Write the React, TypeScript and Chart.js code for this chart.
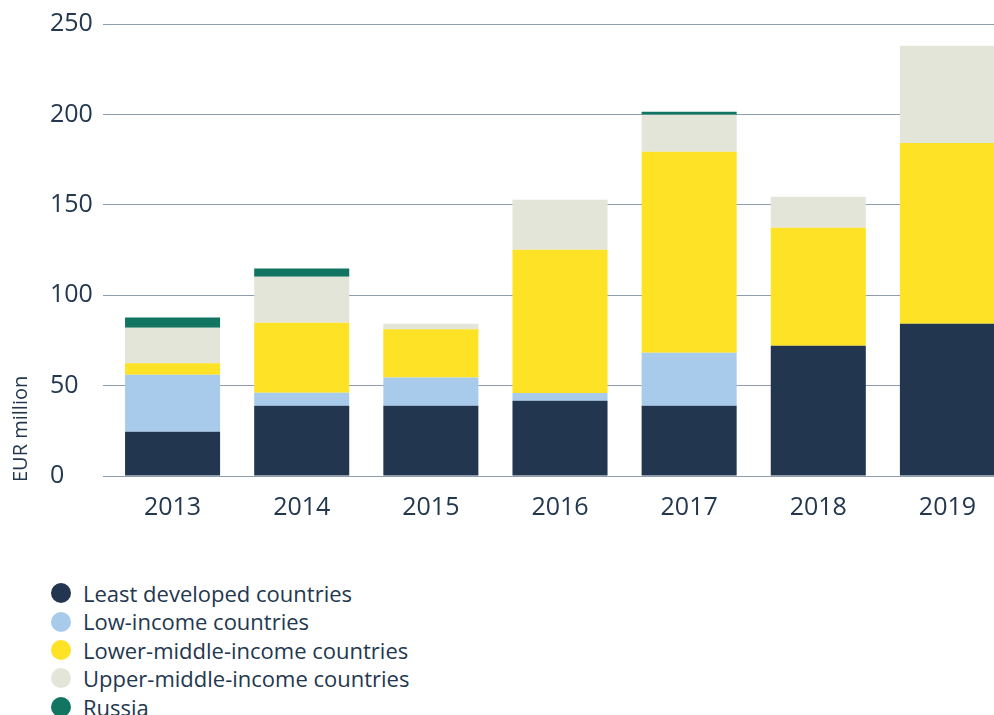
import React, { useEffect, useRef } from "react";
import { Chart, registerables } from "chart.js";

Chart.register(...registerables);

const years = ["2013", "2014", "2015", "2016", "2017", "2018", "2019"];
const leastDeveloped = [24.5, 38.9, 38.9, 41.6, 38.9, 72.1, 84.2];
const lowIncome = [31.5, 7.2, 15.6, 4.3, 29.3, 0, 0];
const lowerMiddle = [6.3, 38.7, 26.6, 79.3, 111.2, 65.2, 100];
const upperMiddle = [19.7, 25.4, 3.1, 27.6, 20.4, 17.2, 53.8];
const russia = [5.6, 4.5, 0, 0, 1.7, 0, 0];

const seriesNames = [
  "Least developed countries",
  "Low-income countries",
  "Lower-middle-income countries",
  "Upper-middle-income countries",
  "Russia",
];
const seriesColors = ["#22374f", "#a8cbec", "#fee226", "#e3e5d8", "#117561"];
const seriesValues = [leastDeveloped, lowIncome, lowerMiddle, upperMiddle, russia];

const yMin = 0;
const yMax = 250;
const yStep = 50;
const yTitle = "EUR million";

const FONT = "'Open Sans', sans-serif";
const TEXT = "#23374f";
const GRID = "#8e9db0";

export default function App() {
  const ref = useRef<HTMLCanvasElement | null>(null);

  useEffect(() => {
    if (!ref.current) return;
    const chart = new Chart(ref.current, {
      type: "bar",
      data: {
        labels: years,
        datasets: seriesNames.map((name, i) => ({
          label: name,
          data: seriesValues[i],
          backgroundColor: seriesColors[i],
          borderWidth: 0,
          yAxisID: "y",
          barPercentage: 0.736,
          categoryPercentage: 1,
        })),
      },
      options: {
        animation: false,
        responsive: true,
        maintainAspectRatio: false,
        layout: { padding: { top: 24, right: 0, bottom: 0, left: 0 } },
        plugins: {
          legend: { display: false },
          tooltip: { enabled: false },
        },
        scales: {
          x: {
            stacked: true,
            grid: { display: false },
            border: { display: false },
            ticks: {
              color: TEXT,
              font: { family: FONT, size: 25 },
              padding: 9,
            },
            afterFit: (s: any) => {
              s.height = 64;
            },
          },
          y: {
            stacked: true,
            min: yMin,
            max: yMax,
            ticks: {
              stepSize: yStep,
              crossAlign: "far",
              color: TEXT,
              font: { family: FONT, size: 25 },
              padding: 0,
            },
            grid: { color: GRID, lineWidth: 1, tickLength: 5, drawTicks: true },
            border: { display: false },
            afterFit: (s: any) => {
              s.width = 58;
            },
          },
          yTitle: {
            type: "linear",
            position: "left",
            weight: 1,
            display: true,
            ticks: { display: false },
            grid: { display: false, drawTicks: false },
            border: { display: false },
            title: {
              display: true,
              text: yTitle,
              align: "start",
              color: TEXT,
              font: { family: FONT, size: 20 },
              padding: { top: 9, bottom: 0 },
            },
            afterFit: (s: any) => {
              s.width = 50;
            },
          },
        },
      } as any,
      plugins: [
        {
          id: "titleShift",
          afterLayout(c: any) {
            const s = c.scales.yTitle;
            if (s) s.bottom = c.chartArea.bottom + 6;
          },
        },
      ],
    });
    return () => chart.destroy();
  }, []);

  return (
    <div
      style={{
        position: "fixed",
        left: 0,
        top: 0,
        width: 994,
        height: 715,
        overflow: "hidden",
        background: "#ffffff",
      }}
    >
      <div style={{ position: "absolute", left: 0, top: 0, width: 1012, height: 540 }}>
        <canvas ref={ref} />
      </div>
      <div
        style={{
          position: "absolute",
          left: 51,
          top: 579,
          fontFamily: FONT,
          fontSize: 22,
          color: TEXT,
          lineHeight: "28.4px",
        }}
      >
        {seriesNames.map((name, i) => (
          <div key={name} style={{ display: "flex", alignItems: "center", height: 28.4, whiteSpace: "nowrap" }}>
            <span
              style={{
                display: "inline-block",
                width: 20,
                height: 20,
                borderRadius: "50%",
                background: seriesColors[i],
                marginRight: 12,
                flex: "none",
              }}
            />
            <span>{name}</span>
          </div>
        ))}
      </div>
    </div>
  );
}
